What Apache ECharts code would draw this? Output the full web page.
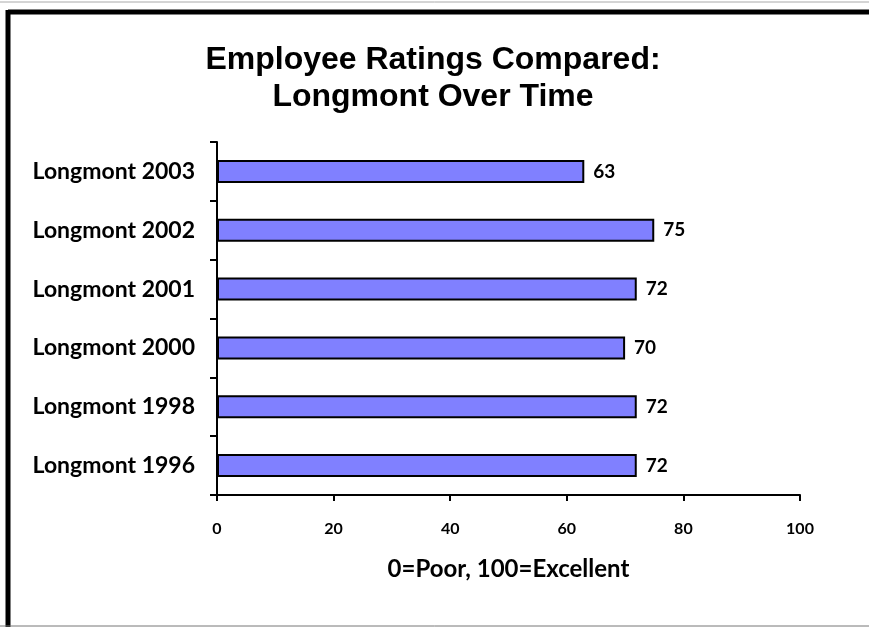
<!DOCTYPE html>
<html>
<head>
<meta charset="utf-8">
<script src="https://cdn.jsdelivr.net/npm/echarts@6/dist/echarts.min.js"></script>
<style>
  html, body { margin: 0; padding: 0; background: #fff; }
  #chart { width: 869px; height: 627px; }
</style>
</head>
<body>
<div id="chart"></div>
<script>
// data, bottom to top
const categories = ['Longmont 1996', 'Longmont 1998', 'Longmont 2000', 'Longmont 2001', 'Longmont 2002', 'Longmont 2003']
const ratings = [72, 72, 70, 72, 75, 63]
const xTicks = [0, 20, 40, 60, 80, 100]

const labelFont = 'Lato, "DejaVu Sans", sans-serif'

const chart = echarts.init(document.getElementById('chart'))

const option = {
  animation: false,
  backgroundColor: '#fff',
  title: {
    text: 'Employee Ratings Compared:\nLongmont Over Time',
    left: 428,
    textAlign: 'center',
    top: 37,
    textStyle: {
      fontFamily: '"Liberation Sans", Arial, sans-serif',
      fontWeight: 'bold',
      fontSize: 32,
      lineHeight: 37,
      color: '#000'
    }
  },
  graphic: [
    // frame around the chart: heavy left and top edges
    { type: 'line', shape: { x1: 8, y1: 12, x2: 869, y2: 12 }, style: { stroke: '#000', lineWidth: 5 } },
    { type: 'line', shape: { x1: 8, y1: 10, x2: 8, y2: 627 }, style: { stroke: '#000', lineWidth: 5 } },
    { type: 'line', shape: { x1: 0, y1: 626, x2: 869, y2: 626 }, style: { stroke: '#777', lineWidth: 1 } },
    { type: 'line', shape: { x1: 0, y1: 2, x2: 869, y2: 2 }, style: { stroke: '#aaa', lineWidth: 1 } }
  ],
  grid: {
    left: 217,
    right: 69,
    top: 142,
    bottom: 132,
    containLabel: false
  },
  xAxis: {
    type: 'value',
    min: 0,
    max: 100,
    interval: 20,
    name: '0=Poor, 100=Excellent',
    nameLocation: 'middle',
    nameGap: 62,
    nameTextStyle: {
      fontFamily: labelFont,
      fontWeight: 'bold',
      fontSize: 24,
      color: '#000'
    },
    axisLine: { show: true, lineStyle: { color: '#000', width: 2 } },
    axisTick: { show: true, length: 6, lineStyle: { color: '#000', width: 2 } },
    axisLabel: {
      margin: 26,
      fontFamily: labelFont,
      fontWeight: 'bold',
      fontSize: 16,
      color: '#000',
      formatter: v => xTicks.includes(v) ? String(v) : ''
    },
    splitLine: { show: false }
  },
  yAxis: {
    type: 'category',
    data: categories,
    axisLine: { show: true, lineStyle: { color: '#000', width: 2 } },
    axisTick: { show: true, length: 7, lineStyle: { color: '#000', width: 2 } },
    axisLabel: {
      margin: 22,
      fontFamily: labelFont,
      fontWeight: 'bold',
      fontSize: 23,
      color: '#000'
    }
  },
  series: [
    {
      type: 'bar',
      data: ratings,
      barWidth: 23,
      itemStyle: {
        color: '#8080FF',
        borderColor: '#000',
        borderWidth: 2
      },
      label: {
        show: true,
        position: 'right',
        distance: 9,
        fontFamily: labelFont,
        fontWeight: 'bold',
        fontSize: 19,
        color: '#000'
      }
    }
  ]
}

chart.setOption(option)
window.addEventListener('resize', () => chart.resize())
</script>
</body>
</html>
